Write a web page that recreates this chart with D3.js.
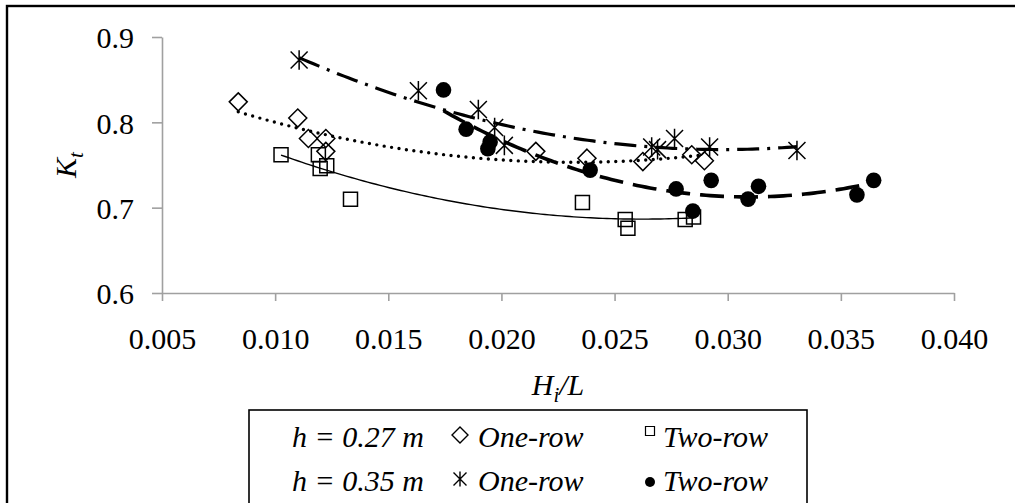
<!DOCTYPE html>
<html>
<head>
<meta charset="utf-8">
<script src="https://cdn.jsdelivr.net/npm/d3@7"></script>
<style>
  body { margin: 0; background: #fff; }
  svg { display: block; font-family: "Liberation Serif", "Times New Roman", serif; }
  .axis path, .axis line { stroke: #a0a0a0; stroke-width: 1.6; }
  .axis text { font-size: 30px; fill: #000; font-family: "Liberation Serif", serif; }
</style>
</head>
<body>
<svg id="chart" width="1015" height="503"></svg>
<script>
// Kt vs Hi/L readings
const oneRow027X = [0.00837, 0.0110, 0.01147, 0.01224, 0.01224, 0.02152, 0.02378, 0.02625, 0.02841, 0.02897];
const oneRow027Y = [0.824, 0.805, 0.781, 0.781, 0.766, 0.766, 0.758, 0.754, 0.762, 0.755];

const twoRow027X = [0.01026, 0.01191, 0.01199, 0.01228, 0.01333, 0.02358, 0.02547, 0.02559, 0.02812, 0.02849];
const twoRow027Y = [0.762, 0.762, 0.746, 0.749, 0.710, 0.706, 0.686, 0.676, 0.686, 0.689];

const oneRow035X = [0.01106, 0.01633, 0.01898, 0.0197, 0.02013, 0.02664, 0.0269, 0.02765, 0.0292, 0.03306];
const oneRow035Y = [0.873, 0.837, 0.815, 0.794, 0.773, 0.771, 0.768, 0.781, 0.771, 0.767];

const twoRow035X = [0.01744, 0.01844, 0.0195, 0.0194, 0.02392, 0.02772, 0.02846, 0.02927, 0.0309, 0.03136, 0.03571, 0.03645];
const twoRow035Y = [0.838, 0.792, 0.777, 0.769, 0.744, 0.722, 0.696, 0.732, 0.710, 0.725, 0.715, 0.732];

const xTicks = [0.005, 0.010, 0.015, 0.020, 0.025, 0.030, 0.035, 0.040];
const yTicks = [0.6, 0.7, 0.8, 0.9];

const svg = d3.select('#chart');

svg.append('rect').attr('width', 1015).attr('height', 503).attr('fill', '#fff');
// outer frame (right and bottom edges fall outside the picture)
svg.append('rect')
  .attr('x', 7).attr('y', 6).attr('width', 1030).attr('height', 520)
  .attr('fill', 'none').attr('stroke', '#000').attr('stroke-width', 2.4);

const x = d3.scaleLinear().domain([0.005, 0.040]).range([162, 954]);
const y = d3.scaleLinear().domain([0.6, 0.9]).range([293, 37]);

// axes
const yAxis = svg.append('g')
  .attr('class', 'axis')
  .attr('transform', 'translate(162,0)')
  .call(d3.axisLeft(y).tickValues(yTicks).tickSize(10).tickSizeOuter(0).tickPadding(18).tickFormat(d3.format('.1f')));
yAxis.selectAll('text').attr('dy', '0.36em');

const xAxis = svg.append('g')
  .attr('class', 'axis')
  .attr('transform', 'translate(0,293)')
  .call(d3.axisBottom(x).tickValues(xTicks).tickSize(8).tickSizeOuter(0).tickFormat(d3.format('.3f')));
xAxis.selectAll('text').attr('y', 56).attr('dy', 0);

// axis titles
const yTitle = svg.append('text')
  .attr('transform', 'translate(76,165) rotate(-90)')
  .attr('text-anchor', 'middle')
  .style('font-size', '30px').style('font-style', 'italic');
yTitle.append('tspan').text('K');
yTitle.append('tspan').attr('font-size', '21px').attr('dy', 7).text('t');

const xTitle = svg.append('text')
  .attr('x', 558).attr('y', 395)
  .attr('text-anchor', 'middle')
  .style('font-size', '30px').style('font-style', 'italic');
xTitle.append('tspan').text('H');
xTitle.append('tspan').attr('font-size', '21px').attr('dy', 7).text('i');
xTitle.append('tspan').attr('dy', -7).text('/L');

// quadratic least-squares trendline, as the spreadsheet does
function polyfit2(xs, ys) {
  const n = xs.length;
  const m = d3.mean(xs);
  const u = xs.map(v => v - m);
  const s = k => d3.sum(u, v => Math.pow(v, k));
  const t = k => d3.sum(u, (v, i) => Math.pow(v, k) * ys[i]);
  const A = [[n, s(1), s(2)], [s(1), s(2), s(3)], [s(2), s(3), s(4)]];
  const b = [t(0), t(1), t(2)];
  // gaussian elimination
  for (let i = 0; i < 3; i++) {
    for (let j = i + 1; j < 3; j++) {
      const f = A[j][i] / A[i][i];
      for (let k = i; k < 3; k++) A[j][k] -= f * A[i][k];
      b[j] -= f * b[i];
    }
  }
  const c = [0, 0, 0];
  for (let i = 2; i >= 0; i--) {
    let acc = b[i];
    for (let k = i + 1; k < 3; k++) acc -= A[i][k] * c[k];
    c[i] = acc / A[i][i];
  }
  return v => c[0] + c[1] * (v - m) + c[2] * (v - m) * (v - m);
}

const line = d3.line().x(d => x(d[0])).y(d => y(d[1]));

function trend(xs, ys, style) {
  const f = polyfit2(xs, ys);
  const [lo, hi] = d3.extent(xs);
  const pts = d3.range(0, 101).map(i => {
    const v = lo + (hi - lo) * i / 100;
    return [v, f(v)];
  });
  const p = svg.append('path')
    .attr('d', line(pts))
    .attr('fill', 'none')
    .attr('stroke', '#000');
  Object.entries(style).forEach(([k, v]) => p.attr(k, v));
}

trend(twoRow027X, twoRow027Y, { 'stroke-width': 1.4 });
trend(oneRow027X, oneRow027Y, { 'stroke-width': 3.4, 'stroke-linecap': 'round', 'stroke-dasharray': '0 7.5' });
trend(oneRow035X, oneRow035Y, { 'stroke-width': 3.2, 'stroke-dasharray': '22 8 3 8' });
trend(twoRow035X, twoRow035Y, { 'stroke-width': 3.6, 'stroke-dasharray': '24 10' });

// marker shapes
const shapes = {
  diamond: r => `M0,${-r}L${r},0L0,${r}L${-r},0Z`,
  square: r => `M${-r},${-r}H${r}V${r}H${-r}Z`,
  star: r => `M${-r},${-r}L${r},${r}M${-r},${r}L${r},${-r}M0,${-r * 1.15}V${r * 1.15}`
};

function markers(xs, ys, kind, size) {
  const data = xs.map((v, i) => [v, ys[i]]);
  const g = svg.append('g');
  if (kind === 'dot') {
    g.selectAll('circle').data(data).enter().append('circle')
      .attr('cx', d => x(d[0])).attr('cy', d => y(d[1]))
      .attr('r', size).attr('fill', '#000');
  } else {
    g.selectAll('path').data(data).enter().append('path')
      .attr('transform', d => `translate(${x(d[0])},${y(d[1])})`)
      .attr('d', shapes[kind](size))
      .attr('fill', 'none').attr('stroke', '#000').attr('stroke-width', 1.5);
  }
}

markers(oneRow027X, oneRow027Y, 'diamond', 9);
markers(twoRow027X, twoRow027Y, 'square', 7);
markers(oneRow035X, oneRow035Y, 'star', 8.5);
markers(twoRow035X, twoRow035Y, 'dot', 7.8);

// legend
const legend = svg.append('g');
legend.append('rect')
  .attr('x', 249).attr('y', 410).attr('width', 558).attr('height', 120)
  .attr('fill', '#fff').attr('stroke', '#000').attr('stroke-width', 1.6);

const legendRows = [
  { label: 'h = 0.27 m', y: 447, one: 'diamond', two: 'square' },
  { label: 'h = 0.35 m', y: 491, one: 'star', two: 'dot' }
];

legendRows.forEach(r => {
  legend.append('text').attr('x', 292).attr('y', r.y)
    .style('font-size', '30px').style('font-style', 'italic')
    .text(r.label);
  legend.append('path')
    .attr('transform', `translate(460,${r.y - 12})`)
    .attr('d', shapes[r.one](r.one === 'diamond' ? 8 : 6.5))
    .attr('fill', 'none').attr('stroke', '#000').attr('stroke-width', 1.4);
  legend.append('text').attr('x', 478).attr('y', r.y)
    .style('font-size', '30px').style('font-style', 'italic')
    .text('One-row');
  if (r.two === 'dot') {
    legend.append('circle').attr('cx', 650).attr('cy', r.y - 9).attr('r', 5).attr('fill', '#000');
  } else {
    legend.append('path')
      .attr('transform', `translate(650,${r.y - 16})`)
      .attr('d', shapes.square(4.5))
      .attr('fill', 'none').attr('stroke', '#000').attr('stroke-width', 1.2);
  }
  legend.append('text').attr('x', 663).attr('y', r.y)
    .style('font-size', '30px').style('font-style', 'italic')
    .text('Two-row');
});
</script>
</body>
</html>
